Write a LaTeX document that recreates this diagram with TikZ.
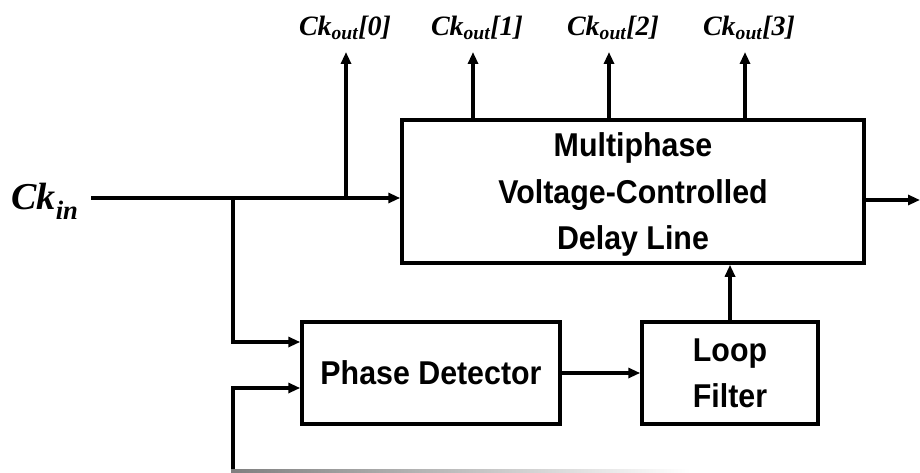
\documentclass[tikz,border=0pt]{standalone}
\usepackage{fontspec}
\setmainfont{Liberation Serif}
\setsansfont{Liberation Sans}
\newfontfamily\blkfont[FakeStretch=0.92]{Liberation Sans Bold}
\usetikzlibrary{arrows.meta}
\newcommand\cksub[1]{\textsubscript{#1}}
\begin{document}
\begin{tikzpicture}[x=1pt,y=-1pt,
  wire/.style={line width=3.5pt},
  arr/.style={wire,-{Triangle[length=12pt,width=10pt]}},
  blk/.style={draw,line width=3.5pt,inner sep=0pt,align=center,text depth=0pt,
    font=\blkfont\fontsize{33}{46.5}\selectfont},
  cklab/.style={inner sep=0pt,font=\rmfamily\bfseries\itshape\fontsize{28}{28}\selectfont},
  ckin/.style={inner sep=0pt,font=\rmfamily\bfseries\itshape\fontsize{38}{38}\selectfont}]
\useasboundingbox (0,0) rectangle (920,473);
% blocks
\node[blk,minimum width=462pt,minimum height=143pt] (vcdl) at (633,191.5)
  {Multiphase\\Voltage-Controlled\\Delay Line};
\node[blk,minimum width=258pt,minimum height=102pt] (pd) at (431,373) {Phase Detector};
\node[blk,minimum width=176pt,minimum height=102pt] (lf) at (730,373) {Loop\\Filter};
% labels
\node[ckin] (ckin) at (45,201) {Ck\cksub{in}};
\node[cklab] (o0) at (345,28) {Ck\cksub{out}[0]};
\node[cklab] (o1) at (477,28) {Ck\cksub{out}[1]};
\node[cklab] (o2) at (613,28) {Ck\cksub{out}[2]};
\node[cklab] (o3) at (749,28) {Ck\cksub{out}[3]};
% coordinates
\coordinate (inL) at (91,198);
\coordinate (j1) at (233,198);
\coordinate (j0) at (346,198);
\coordinate (t0) at (346,52);
\coordinate (t1) at (473,52);
\coordinate (t2) at (609,52);
\coordinate (t3) at (745,52);
\coordinate (out) at (920,200);
\coordinate (pin1) at (302,342);
\coordinate (pin2) at (302,388);
\coordinate (fb) at (233,471);
% connectors
\draw[arr] (inL) -- (vcdl.west |- inL);
\draw[arr] (j0) -- (t0);
\draw[arr] (vcdl.north -| t1) -- (t1);
\draw[arr] (vcdl.north -| t2) -- (t2);
\draw[arr] (vcdl.north -| t3) -- (t3);
\draw[arr] (vcdl.east |- out) -- (out);
\draw[arr] (j1) |- (pd.west |- pin1);
\draw[arr] (fb) |- (pd.west |- pin2);
\draw[arr] (pd.east) -- (lf.west);
\draw[arr] (lf.north) -- (vcdl.south -| lf.north);
\shade[left color=gray,right color=white] (231,469.5) rectangle (690,472.5);
\end{tikzpicture}
\end{document}
